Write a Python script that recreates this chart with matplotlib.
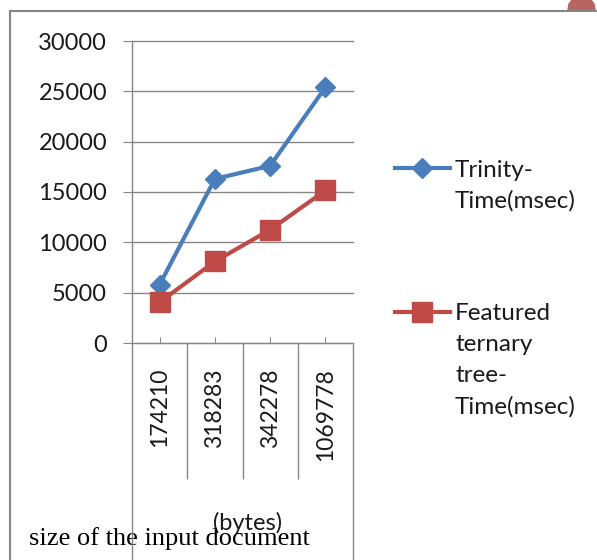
import numpy as np
import matplotlib.pyplot as plt
from matplotlib.patches import Polygon

plt.rcParams['font.family'] = ['Lato', 'DejaVu Sans']

# data
sizes = ['174210', '318283', '342278', '1069778']
trinity = [5800, 16300, 17600, 25400]
featured = [4050, 8100, 11250, 15150]
yticks = [0, 5000, 10000, 15000, 20000, 25000, 30000]

W, H = 597, 560
blue = '#4a7ebb'
red = '#be4b48'
gray = '#868686'
txt = '#1a1a1a'

fig = plt.figure(figsize=(W / 100, H / 100), dpi=100)

# background layer in pixel coords (frame, legend, axis titles)
bg = fig.add_axes([0, 0, 1, 1])
bg.set_xlim(0, W)
bg.set_ylim(H, 0)
bg.axis('off')

# -- main plot --
ax = fig.add_axes([132 / W, 1 - 343 / H, 221 / W, 302 / H])
ax.patch.set_visible(False)
x = np.arange(len(sizes))
ax.plot(x, trinity, color=blue, lw=3, marker='D', ms=10.5, zorder=3)
ax.plot(x, featured, color=red, lw=3, marker='s', ms=14.5, zorder=3)
ax.set_xlim(-0.5, len(sizes) - 0.5)
ax.set_ylim(0, 30000)
ax.set_yticks(yticks)
ax.set_yticklabels([str(v) for v in yticks], fontsize=17, color=txt)
ax.yaxis.grid(True, color=gray, lw=1)
for gl in ax.get_ygridlines():
    gl.set_clip_on(False)
for s in ax.spines.values():
    s.set_visible(False)
ax.spines['bottom'].set_visible(True)
ax.spines['bottom'].set_color(gray)
ax.set_xticks(x)
ax.set_xticklabels(sizes, rotation=90, fontsize=16.5, color=txt)
ax.tick_params(axis='x', direction='in', length=4.3, color=gray, pad=18)
ax.tick_params(axis='y', length=6.5, color=gray, pad=11.5)

# category boxes below the axis
tr = ax.get_xaxis_transform()
ax.vlines(x[:-1] + 0.5, -0.45, 0, color=gray, lw=1, transform=tr, clip_on=False)
ax.vlines([x[-1] + 0.5], -0.72, 0, color=gray, lw=1, transform=tr, clip_on=False)
ax.vlines([x[0] - 0.5], -0.72, 1, color=gray, lw=1, transform=tr, clip_on=False)

# -- outer frame --
bg.plot([10, 10], [11, H], color=gray, lw=1.5)
bg.plot([10, W], [11, 11], color=gray, lw=1.5)
bg.add_patch(Polygon([(568, 10), (569, 4), (572, 0), (591, 0), (594, 4), (595, 10)],
                     closed=True, color='#b86462'))

# -- legend --
bg.plot([395, 450], [168, 168], color=blue, lw=3)
bg.plot([422], [168], marker='D', ms=10.5, color=blue)
bg.plot([395, 450], [312, 312], color=red, lw=3)
bg.plot([422], [312], marker='s', ms=14.5, color=red)
for yy, s in zip([177, 208], ['Trinity-', 'Time(msec)']):
    bg.text(455, yy, s, fontsize=17.5, color=txt, va='baseline')
for yy, s in zip([320, 351, 382, 414], ['Featured', 'ternary', 'tree-', 'Time(msec)']):
    bg.text(455, yy, s, fontsize=17.5, color=txt, va='baseline')

# -- axis titles --
bg.text(248, 523, '(bytes)', fontsize=17, color=txt, ha='center', va='center')
bg.text(29, 545, 'size of the input document', family='Liberation Serif',
        fontsize=19, color='black', va='baseline')

plt.savefig('out.png', dpi=100)
